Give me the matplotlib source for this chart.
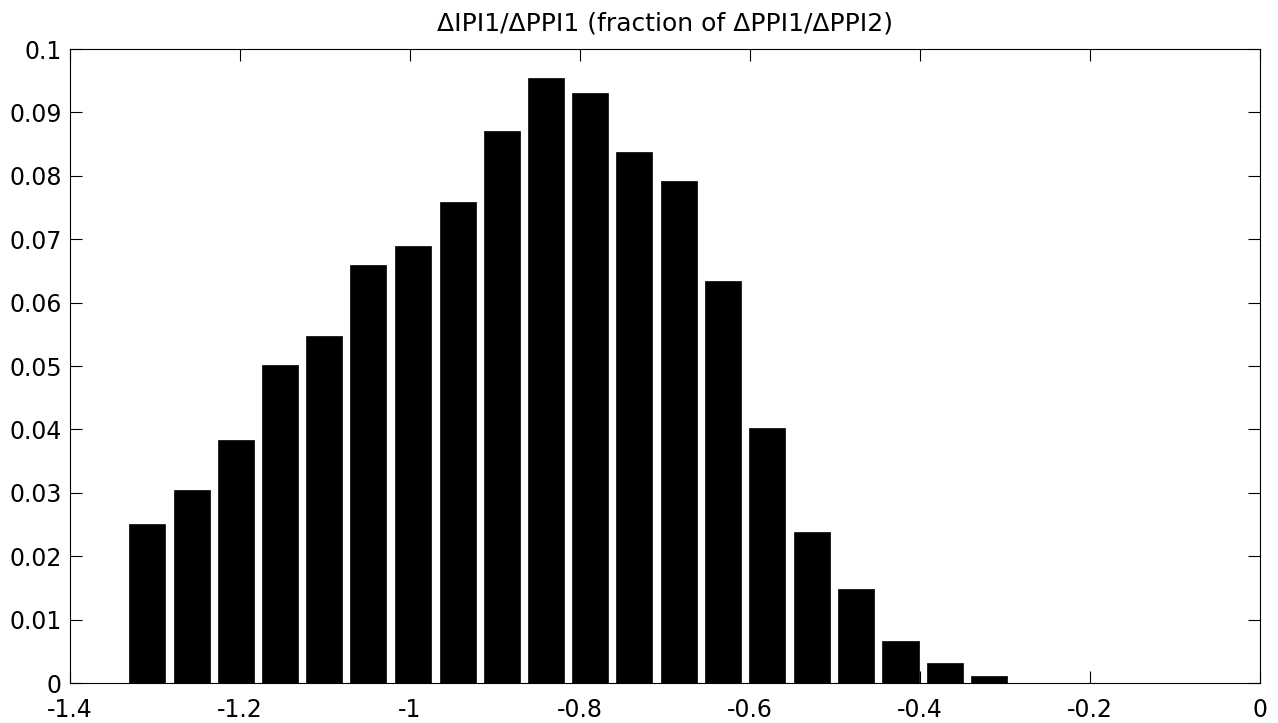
import numpy as np
import matplotlib
matplotlib.use('Agg')
import matplotlib.pyplot as plt

# the reference text is wide compared with its height, DejaVu Sans is closest
plt.rcParams['font.family'] = ['DejaVu Sans']

# bin centres of the histogram and the fraction in each bin
bin_centers = [-1.309, -1.257, -1.205, -1.153, -1.101, -1.049, -0.996, -0.944,
               -0.892, -0.840, -0.788, -0.736, -0.684, -0.632, -0.580, -0.527,
               -0.475, -0.423, -0.371, -0.319]
fractions = [0.0251, 0.0304, 0.0383, 0.0502, 0.0547, 0.0660, 0.0690, 0.0759,
             0.0871, 0.0955, 0.0930, 0.0837, 0.0792, 0.0634, 0.0403, 0.0238,
             0.0148, 0.0066, 0.0031, 0.0011]

xticks = [-1.4, -1.2, -1.0, -0.8, -0.6, -0.4, -0.2, 0.0]
xtick_labels = ['-1.4', '-1.2', '-1', '-0.8', '-0.6', '-0.4', '-0.2', '0']
yticks = [0, 0.01, 0.02, 0.03, 0.04, 0.05, 0.06, 0.07, 0.08, 0.09, 0.1]
ytick_labels = ['0', '0.01', '0.02', '0.03', '0.04', '0.05', '0.06', '0.07',
                '0.08', '0.09', '0.1']

fig = plt.figure(figsize=(12.78, 7.23), dpi=100)
ax = fig.add_axes([0.0548, 0.0553, 0.9311, 0.8769])

ax.bar(bin_centers, fractions, width=0.0425, color='black',
       edgecolor='black', linewidth=0.5)

ax.set_xlim(-1.4, 0)
ax.set_ylim(0, 0.1)
ax.set_xticks(xticks)
ax.set_xticklabels(xtick_labels)
ax.set_yticks(yticks)
ax.set_yticklabels(ytick_labels)
ax.tick_params(direction='in', length=8.5, width=0.8, top=True, right=True,
               labelsize=17)
ax.tick_params(axis='x', pad=11)
ax.tick_params(axis='y', pad=6)
for s in ax.spines.values():
    s.set_linewidth(0.8)

ax.set_title('\u0394IPI1/\u0394PPI1 (fraction of \u0394PPI1/\u0394PPI2)',
             fontsize=18, pad=13)

fig.savefig('out.png', dpi=100)
